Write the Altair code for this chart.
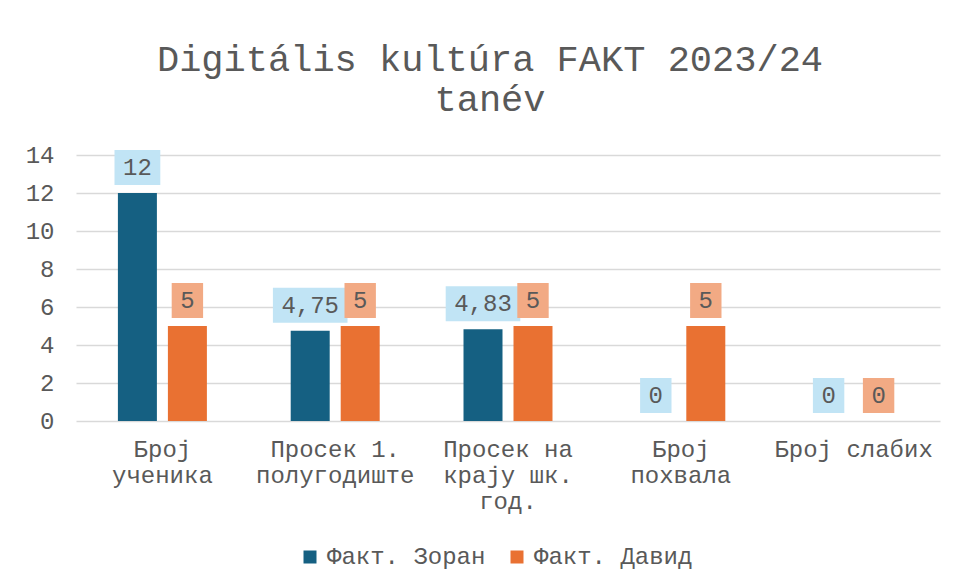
import altair as alt
import pandas as pd

# ---- data ----
categories = ["Број ученика", "Просек 1. полугодиште", "Просек на крају шк. год.",
              "Број похвала", "Број слабих"]
category_lines = [["Број", "ученика"], ["Просек 1.", "полугодиште"],
                  ["Просек на", "крају шк.", "год."], ["Број", "похвала"], ["Број слабих"]]
series = ["Факт. Зоран", "Факт. Давид"]
zoran = [12, 4.75, 4.83, 0, 0]
david = [5, 5, 5, 5, 0]
y_ticks = [0, 2, 4, 6, 8, 10, 12, 14]

# ---- styles ----
bar_colors = ["#156082", "#E97132"]
box_colors = ["#C1E4F5", "#F2AA84"]
FONT = "Liberation Mono"
TXT = "#595959"
GRID = "#D9D9D9"

rows = []
for s, vals, bc in zip(series, [zoran, david], box_colors):
    for c, v in zip(categories, vals):
        lab = f"{v:g}".replace(".", ",")
        w = 14.4 * len(lab) + 17
        gap, h = 8, 35
        path = (f"M{-w/2},{-(gap+h)}L{w/2},{-(gap+h)}"
                f"L{w/2},{-gap}L{-w/2},{-gap}Z")
        rows.append({"category": c, "series": s, "value": v,
                     "label": lab, "box": path, "boxfill": bc})
df = pd.DataFrame(rows)

label_expr = ""
for c, lines in zip(categories, category_lines):
    arr = "[" + ",".join(f"'{l}'" for l in lines) + "]"
    label_expr += f"datum.value == '{c}' ? {arr} : "
label_expr += "datum.value"

x_enc = alt.X("category:N", sort=categories,
              scale=alt.Scale(paddingInner=0.485, paddingOuter=0.2425),
              axis=alt.Axis(title=None, labelAngle=0, ticks=False, domain=False,
                            labelExpr=label_expr, labelFont=FONT, labelFontSize=24,
                            labelColor=TXT, labelPadding=16, labelLineHeight=26,
                            labelBaseline="top", labelLimit=0))
xo_enc = alt.XOffset("series:N", sort=series,
                     scale=alt.Scale(paddingInner=0.22, paddingOuter=0))
y_enc = alt.Y("value:Q", scale=alt.Scale(domain=[0, 14]),
              axis=alt.Axis(title=None, values=y_ticks, grid=True, gridColor=GRID,
                            gridWidth=1.3, domain=False, ticks=False,
                            labelFont=FONT, labelFontSize=24, labelColor=TXT,
                            labelPadding=22))

base = alt.Chart(df)

bars = base.mark_bar().encode(
    x=x_enc, xOffset=xo_enc, y=y_enc,
    color=alt.Color("series:N", sort=series,
                    scale=alt.Scale(domain=series, range=bar_colors),
                    legend=alt.Legend(title=None, orient="none", direction="horizontal",
                                      legendX=222, legendY=390, symbolType="square",
                                      symbolSize=169, symbolStrokeWidth=0,
                                      labelFont=FONT, labelFontSize=24,
                                      labelColor=TXT, labelOffset=5,
                                      columnPadding=19, labelLimit=0)),
)

boxes = base.mark_point(filled=True, opacity=1, size=4, strokeWidth=0).encode(
    x=x_enc, xOffset=xo_enc, y=y_enc,
    shape=alt.Shape("box:N", scale=None),
    fill=alt.Fill("boxfill:N", scale=None),
)

texts = base.mark_text(font=FONT, fontSize=24, color=TXT, baseline="middle",
                       dy=-25).encode(
    x=x_enc, xOffset=xo_enc, y=y_enc, text="label:N",
)

chart = alt.layer(bars, boxes, texts).properties(
    width=864, height=266,
    title=alt.Title(["Digitális kultúra FAKT 2023/24", "tanév"], font=FONT,
                    fontSize=37, fontWeight="normal", color=TXT, lineHeight=40,
                    anchor="middle", dx=-18, offset=24),
    autosize=alt.AutoSizeParams(type="none"),
    padding={"left": 68, "top": 147, "right": 10, "bottom": 150},
    background="white",
).configure_view(stroke=None)

chart.save("out.html", embed_options={"renderer": "svg", "actions": False})
